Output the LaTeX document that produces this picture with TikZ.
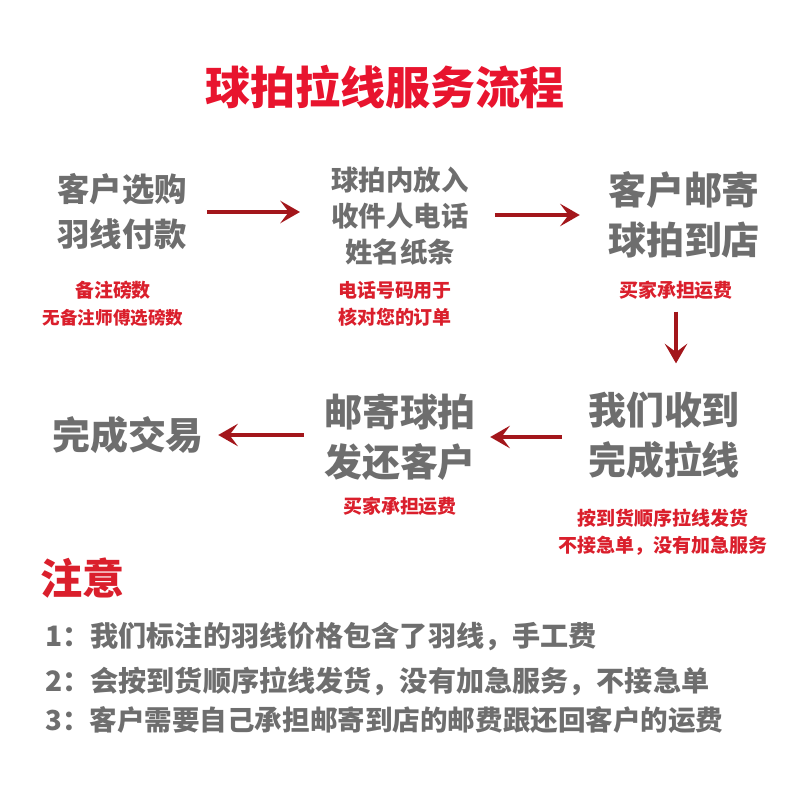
\documentclass[tikz,border=0pt]{standalone}
\usepackage{fontspec}
\usepackage{tikz}
\usetikzlibrary{arrows.meta}
\setmainfont{Noto Sans CJK SC}[BoldFont={Noto Sans CJK SC Black}]
\definecolor{stepgray}{HTML}{6E6E6E}
\definecolor{notered}{HTML}{DA1F2C}
\definecolor{titlered}{HTML}{E8142E}
\definecolor{arrowred}{HTML}{A3161B}

\begin{document}
\begin{tikzpicture}[x=0.025cm, y=-0.025cm,
  steptext/.style 2 args={text=stepgray, align=center, inner sep=0pt,
    font=\bfseries\fontsize{#1}{#2}\selectfont},
  redtext/.style={text=notered, align=center, inner sep=0pt,
    font=\bfseries\fontsize{13.5}{19.5}\selectfont},
  flow/.style={draw=arrowred, line width=2.9pt,
    -{Stealth[length=14pt, width=16pt, inset=6pt]}}]
\useasboundingbox (0,0) rectangle (800,800);
% title
\node[text=titlered, inner sep=0pt, font=\bfseries\fontsize{32}{36}\selectfont] (title) at (385,87) {球拍拉线服务流程};
% first row
\node[steptext={23}{32}] (buy) at (122,212) {客户选购\\羽线付款};
\node[redtext] (buynote) at (113,304) {备注磅数\\{\fontsize{12.5}{19.5}\selectfont 无备注师傅选磅数}};
\node[steptext={19.5}{25.8}] (slip) at (400,216) {球拍内放入\\收件人电话\\姓名纸条};
\node[redtext] (slipnote) at (395,304) {电话号码用于\\核对您的订单};
\node[steptext={27}{35.5}] (mail) at (684,215) {客户邮寄\\球拍到店};
\node[redtext] (mailnote) at (676,290) {买家承担运费};
% second row
\node[steptext={27}{35.5}] (string) at (664,435) {我们收到\\完成拉线};
\node[redtext] (stringnote) at (663,532) {按到货顺序拉线发货\\不接急单，没有加急服务};
\node[steptext={27}{35.5}] (back) at (400,437) {邮寄球拍\\发还客户};
\node[redtext] (backnote) at (400,506) {买家承担运费};
\node[steptext={27}{35.5}] (done) at (128,435) {完成交易};
% arrows
\draw[flow, shorten <=0.5cm, shorten >=0.78cm] (buy.east) -- (buy.east -| slip.west);
\draw[flow, shorten <=0.65cm, shorten >=0.7cm] (slip.east |- mail.west) -- (mail.west);
\draw[flow, shorten <=0.3cm, shorten >=0.7cm] (mailnote.south) -- (mailnote.south |- string.north);
\draw[flow, shorten <=0.65cm, shorten >=0.35cm] (string.west |- back.east) -- (back.east);
\draw[flow, shorten <=0.5cm, shorten >=0.35cm] (back.west |- done.east) -- (done.east);
% notes
\node[text=notered, inner sep=0pt, anchor=west, font=\bfseries\fontsize{30}{34}\selectfont] (attn) at (40,578) {注意};
\node[text=stepgray, inner sep=0pt, anchor=west, font=\bfseries\fontsize{20}{24}\selectfont] (rule1) at (45,637) {1：我们标注的羽线价格包含了羽线，手工费};
\node[text=stepgray, inner sep=0pt, anchor=west, font=\bfseries\fontsize{20}{24}\selectfont] (rule2) at (45,681) {2：会按到货顺序拉线发货，没有加急服务，不接急单};
\node[text=stepgray, inner sep=0pt, anchor=west, font=\bfseries\fontsize{19.6}{24}\selectfont] (rule3) at (45,720) {3：客户需要自己承担邮寄到店的邮费跟还回客户的运费};
\end{tikzpicture}
\end{document}
